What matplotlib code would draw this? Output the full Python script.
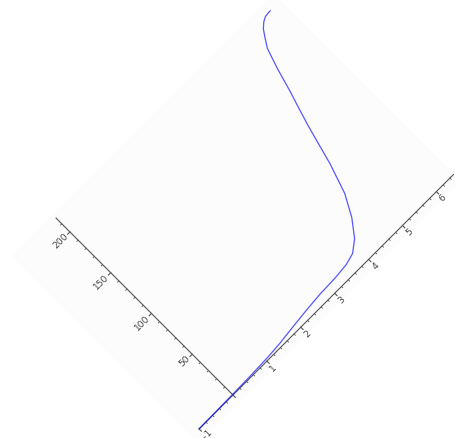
import numpy as np
import matplotlib
matplotlib.use("Agg")
import matplotlib.pyplot as plt
from matplotlib.transforms import Affine2D
from matplotlib.patches import Rectangle
from matplotlib.ticker import MultipleLocator

# ---- data ----
x_vals = [-1.0, -0.5, 0.0, 0.5, 1.07, 1.46, 1.88, 2.34, 2.78, 3.25, 3.59, 3.85,
          4.10, 4.37, 4.62, 4.84, 5.08, 5.22, 5.32, 5.47, 5.62, 5.75, 5.85, 5.96, 6.06, 6.15, 6.22]
y_vals = [0.0, 0.3, 0.6, 1.0, 1.8, 3.0, 5.0, 7.0, 8.5, 9.2, 10.5, 13.4,
          21.3, 36.0, 55.0, 82.0, 119.0, 138.0, 151.0, 173.0, 191.5, 200.0, 206.0, 210.0, 212.2, 212.7, 212.8]

x_major = [-1, 1, 2, 3, 4, 5, 6]
x_labels = ["\u22121", "1", "2", "3", "4", "5", "6"]
y_major = [50, 100, 150, 200]
y_labels = ["50", "100", "150", "200"]

x_range = (-1.0, 6.5)
y_range = (0.0, 217.0)

# ---- rotated frame (plot rotated 45 degrees) ----
W, H = 456, 438
fig = plt.figure(figsize=(W / 100, H / 100), dpi=100)
ax = fig.add_axes([0, 0, 1, 1])
ax.set_xlim(0, W)
ax.set_ylim(H, 0)
ax.axis("off")

ux, uy = 47.94, 1.153          # pixels per data unit along each rotated axis
ox, oy = 233.0, 395.0          # origin position
c = np.cos(np.radians(45)); s = np.sin(np.radians(45))
M = np.array([[ux * c, -uy * s, ox],
              [-ux * s, -uy * c, oy],
              [0, 0, 1]])
T = Affine2D(M) + ax.transData

# figure background of the rotated plot
ax.add_patch(Rectangle((-1.22, -8), 7.74, 229, transform=T,
                       facecolor="#fcfcfc", edgecolor="none", zorder=0))

axis_col = "#555555"
# axes lines
ax.plot([x_range[0], x_range[1]], [0, 0], transform=T, color=axis_col, lw=0.8, zorder=2)
ax.plot([0, 0], [y_range[0], y_range[1]], transform=T, color=axis_col, lw=0.8, zorder=2)

# ticks
def tick_segments_x(vals, length_px):
    xs, ys = [], []
    for v in vals:
        xs += [v, v, np.nan]
        ys += [0, -length_px / uy, np.nan]
    return xs, ys

def tick_segments_y(vals, length_px):
    xs, ys = [], []
    for v in vals:
        xs += [0, -length_px / ux, np.nan]
        ys += [v, v, np.nan]
    return xs, ys

xmaj = MultipleLocator(1).tick_values(-1, 6.4)
xmaj = [v for v in xmaj if x_range[0] - 1e-9 <= v <= x_range[1]]
xmin = MultipleLocator(0.2).tick_values(-1, 6.4)
xmin = [v for v in xmin if x_range[0] - 1e-9 <= v <= x_range[1] and abs(v - round(v)) > 1e-6]
ymin = MultipleLocator(10).tick_values(0, 217)
ymin = [v for v in ymin if 0 < v <= y_range[1] and v % 50 != 0]

for segs, lw in [(tick_segments_x(xmaj, 3.2), 0.8), (tick_segments_x(xmin, 1.8), 0.6),
                 (tick_segments_y(y_major, 3.2), 0.8), (tick_segments_y(ymin, 1.8), 0.6)]:
    ax.plot(segs[0], segs[1], transform=T, color=axis_col, lw=lw, zorder=2)

# tick labels
fs = 6.6
lab_col = "#444444"
for v, lab in zip(x_major, x_labels):
    ax.text(v, -5.0 / uy, lab, transform=T, rotation=45, rotation_mode="anchor",
            ha="center", va="top", fontsize=fs, color=lab_col)
for v, lab in zip(y_major, y_labels):
    ax.text(-4.5 / ux, v, lab, transform=T, rotation=45, rotation_mode="anchor",
            ha="right", va="center", fontsize=fs, color=lab_col)

# curve
ax.plot(x_vals, y_vals, transform=T, color="#0000ff", lw=0.9, zorder=3,
        solid_capstyle="round", solid_joinstyle="round", alpha=0.65)

fig.savefig("out.png", dpi=100)
